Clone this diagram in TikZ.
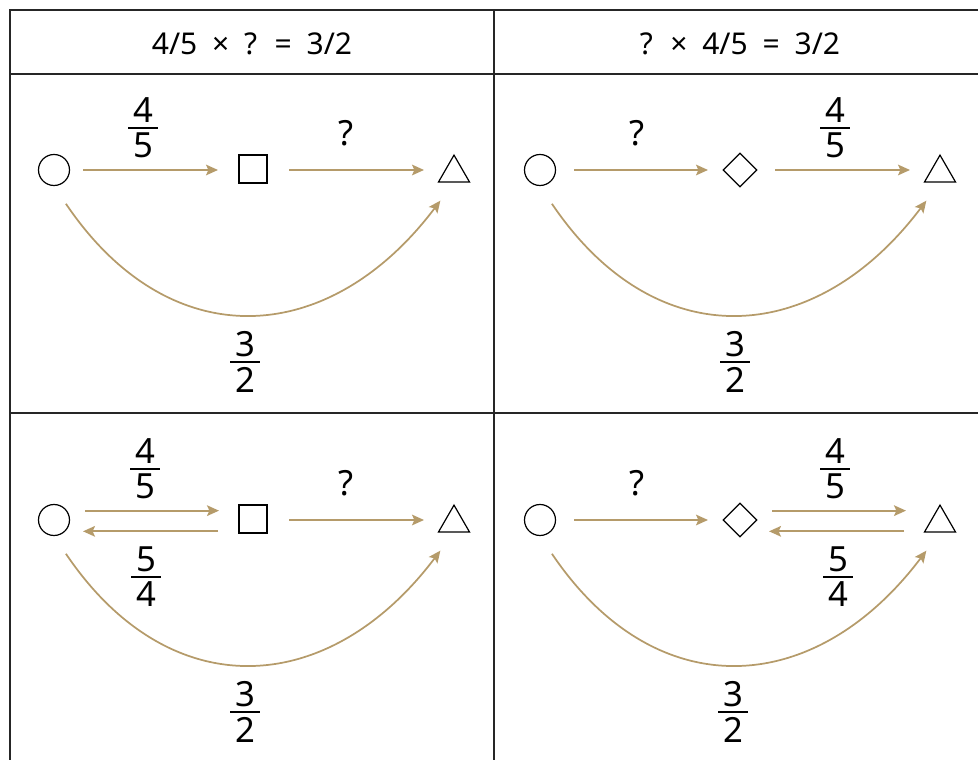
\documentclass[tikz,border=0pt]{standalone}
\usepackage{fontspec}
\setmainfont{Noto Sans}
\newfontfamily\headfont[WordSpace=1.9]{Noto Sans}
\usetikzlibrary{shapes.geometric, arrows.meta}
\definecolor{flowgold}{RGB}{181,155,106}
\newcommand{\fr}[2]{\shortstack[c]{#1\\\rule{0.85em}{1.4pt}\\#2}}

\begin{document}
\begin{tikzpicture}[
        x=0.75pt, y=0.75pt,
        ringNode/.style={
            circle, draw, line width=0.9pt, minimum size=23.25pt, inner sep=0pt
        },
        boxNode/.style={
            rectangle, draw, line width=0.9pt, minimum size=21pt, inner sep=0pt
        },
        gemNode/.style={
            diamond, draw, line width=0.9pt, minimum size=25.5pt, inner sep=0pt
        },
        triNode/.style={
            regular polygon, regular polygon sides=3, draw, line width=0.9pt,
            minimum size=26.8pt, inner sep=0pt
        },
        headText/.style={font=\headfont\fontsize{22.5pt}{26pt}\selectfont},
        lbl/.style={font=\fontsize{26pt}{30pt}\selectfont, inner sep=0pt},
        arrow/.style={
            line width=1.3pt, draw=flowgold,
            -{Stealth[length=9pt, width=8pt, inset=1.8pt]}
        }
    ]
        \useasboundingbox (0,0) rectangle (978,760);

        % Table grid
        \draw[line width=0.8pt, black!85] (10,0) -- (10,750) -- (978,750);
        \draw[line width=0.8pt, black!85] (10,686) -- (978,686);
        \draw[line width=0.8pt, black!85] (10,347) -- (978,347);
        \draw[line width=0.8pt, black!85] (494,0) -- (494,750);

        \node (headL) [headText] at (252,716) {4/5 × ? = 3/2};
        \node (headR) [headText] at (740,716) {? × 4/5 = 3/2};

        % Top left
        \node (o1) [ringNode] at (54,590) {};
        \node (s1) [boxNode] at (253,591) {};
        \node (t1) [triNode] at (454,587) {};
        \draw [arrow, shorten <=21.75pt, shorten >=26.25pt]
            (o1.center) -- (o1.center -| s1.center);
        \draw [arrow, shorten <=27pt, shorten >=22.5pt]
            (o1.center -| s1.center) -- (o1.center -| t1.center);
        \draw [arrow, shorten <=16pt, shorten >=17pt]
            (o1.south) .. controls +(-56:207) and +(-127:207) .. (t1.south);
        \node (f1) [lbl] at (143,632) {\fr{4}{5}};
        \node (q1) [lbl] at (346,627) {?};
        \node (h1) [lbl] at (245,398) {\fr{3}{2}};

        % Top right
        \node (o2) [ringNode] at (540,590) {};
        \node (d2) [gemNode] at (740,590) {};
        \node (t2) [triNode] at (940,587) {};
        \draw [arrow, shorten <=25.5pt, shorten >=24pt] (o2.center) -- (d2.center);
        \draw [arrow, shorten <=26.25pt, shorten >=22.5pt]
            (d2.center) -- (d2.center -| t2.center);
        \draw [arrow, shorten <=16pt, shorten >=17pt]
            (o2.south) .. controls +(-56:207) and +(-127:207) .. (t2.south);
        \node (q2) [lbl] at (637,627) {?};
        \node (f2) [lbl] at (835,632) {\fr{4}{5}};
        \node (h2) [lbl] at (735,398) {\fr{3}{2}};

        % Bottom left
        \node (o3) [ringNode] at (54,240) {};
        \node (s3) [boxNode] at (253,241) {};
        \node (t3) [triNode] at (454,237) {};
        \draw [arrow, shorten <=23.25pt, shorten >=25.5pt]
            ([yshift=7pt]o3.center) -- ([yshift=7pt]o3.center -| s3.center);
        \draw [arrow, shorten <=26.25pt, shorten >=21.75pt]
            ([yshift=-8.5pt]o3.center -| s3.center) -- ([yshift=-8.5pt]o3.center);
        \draw [arrow, shorten <=27pt, shorten >=22.5pt]
            (o3.center -| s3.center) -- (o3.center -| t3.center);
        \draw [arrow, shorten <=16pt, shorten >=17pt]
            (o3.south) .. controls +(-56:207) and +(-127:207) .. (t3.south);
        \node (f3) [lbl] at (145,291) {\fr{4}{5}};
        \node (g3) [lbl] at (146,183) {\fr{5}{4}};
        \node (q3) [lbl] at (346,277) {?};
        \node (h3) [lbl] at (245,48) {\fr{3}{2}};

        % Bottom right
        \node (o4) [ringNode] at (540,240) {};
        \node (d4) [gemNode] at (740,240) {};
        \node (t4) [triNode] at (940,237) {};
        \draw [arrow, shorten <=25.5pt, shorten >=24pt] (o4.center) -- (d4.center);
        \draw [arrow, shorten <=24pt, shorten >=25.5pt]
            ([yshift=7pt]d4.center) -- ([yshift=7pt]d4.center -| t4.center);
        \draw [arrow, shorten <=27pt, shorten >=21.75pt]
            ([yshift=-8.5pt]d4.center -| t4.center) -- ([yshift=-8.5pt]d4.center);
        \draw [arrow, shorten <=16pt, shorten >=17pt]
            (o4.south) .. controls +(-56:207) and +(-127:207) .. (t4.south);
        \node (q4) [lbl] at (637,277) {?};
        \node (f4) [lbl] at (835,291) {\fr{4}{5}};
        \node (g4) [lbl] at (838,183) {\fr{5}{4}};
        \node (h4) [lbl] at (733,48) {\fr{3}{2}};
    \end{tikzpicture}
\end{document}
